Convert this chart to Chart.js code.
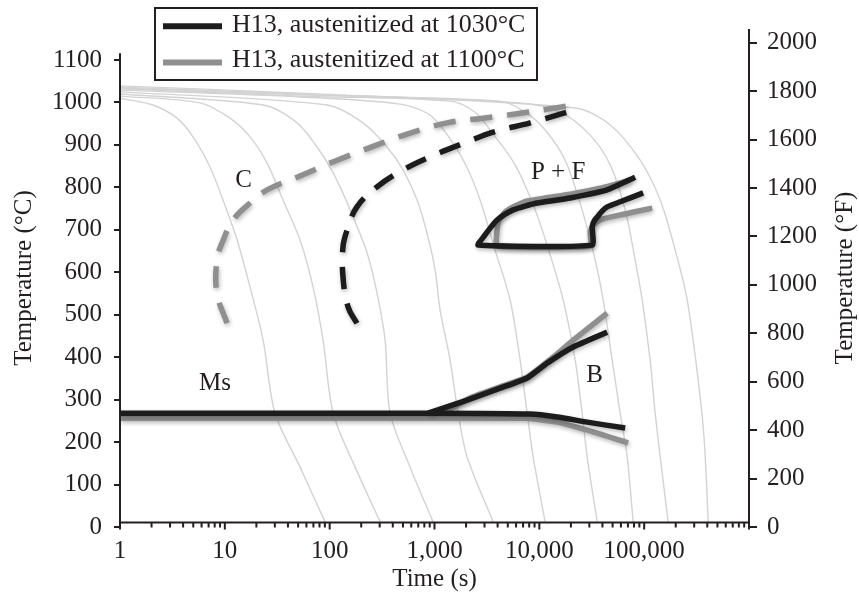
<!DOCTYPE html>
<html lang="en">
<head>
<meta charset="utf-8">
<title>H13 CCT diagram</title>
<script src="https://cdn.jsdelivr.net/npm/chart.js@4.4.1/dist/chart.umd.min.js"></script>
<style>
  html, body { margin: 0; padding: 0; background: #fff; }
  canvas { display: block; }
</style>
</head>
<body>
<canvas id="cct" width="859" height="594"></canvas>
<script>
// ---- data ---------------------------------------------------------------
const seriesNames = ['H13, austenitized at 1030°C', 'H13, austenitized at 1100°C'];
const timeTicks = [1, 10, 100, 1000, 10000, 100000];
const celsiusTicks = [0, 100, 200, 300, 400, 500, 600, 700, 800, 900, 1000, 1100];
const fahrenheitTicks = [0, 200, 400, 600, 800, 1000, 1200, 1400, 1600, 1800, 2000];

// cooling curves: [time (s), temperature (°C)]
const cooling1 = [[1,1010],[2.06,994],[3.5,963],[4.97,919],[7.22,848],[9.61,770],[13.1,676],[17.4,565],[23.2,440],[30.1,268],[52.2,141],[90.4,12]];
const cooling2 = [[1,1015],[5.8,999],[11.2,963],[17.4,919],[25.3,857],[35.9,770],[52.2,676],[69.5,565],[86.5,440],[108,268],[175,141],[303,12]];
const cooling3 = [[1,1020],[23.2,994],[48.9,952],[75.9,895],[108,834],[157,747],[228,645],[283,551],[338,440],[377,268],[585,141],[970,12]];
const cooling4 = [[1,1025],[94.4,994],[208,952],[353,895],[501,841],[682,770],[849,692],[1014,605],[1131,511],[1409,393],[1680,268],[2047,165],[3625,12]];
const cooling5 = [[1,1029],[52.2,1013],[470,996],[908,970],[1506,904],[2094,841],[2723,770],[3788,652],[5261,535],[6560,393],[7650,268],[8730,165],[11360,12]];
const cooling6 = [[1,1032],[52.2,1015],[1409,1003],[2440,977],[3394,935],[5875,853],[9120,747],[12680,641],[16870,535],[21970,393],[25600,268],[28590,165],[35640,12]];
const cooling7 = [[1,1034],[52.2,1018],[4227,1003],[7324,977],[11360,935],[17630,864],[25600,747],[34110,629],[40640,535],[49540,393],[59020,268],[68870,165],[78560,12]];
const cooling8 = [[1,1036],[52.2,1020],[6560,999],[15790,977],[30530,923],[47410,853],[65910,747],[82040,629],[95710,535],[114000,393],[127400,268],[142200,165],[169400,12]];
const cooling9 = [[1,1039],[52.2,1022],[21970,987],[47410,947],[91600,864],[142200,770],[197700,652],[257200,535],[327500,346],[374000,205],[408300,12]];
const coolingCurves = [cooling1, cooling2, cooling3, cooling4, cooling5, cooling6, cooling7, cooling8, cooling9];

// carbide precipitation start (C-curves)
const cStart1030 = [[182,480],[150,518],[134,589],[134,660],[147,700],[182,754],[283,801],[501,841],[908,872],[2047,907],[3625,930],[8170,952],[18420,977],[23450,985]];
const cStart1100 = [[10.5,480],[8.4,551],[8.4,629],[9.4,669],[12.0,723],[17.4,763],[25.3,794],[48.9,824],[118,864],[283,900],[585,928],[1318,952],[2911,963],[6855,975],[15800,989],[21970,994]];

// pearlite + ferrite field
const pf1030 = [[82040,824],[44360,794],[19680,775],[9530,763],[7324,756],[5623,747],[4721,737],[3958,723],[3394,704],[2973,685],[2608,664],
                [31920,664],[31920,707],[33340,721],[35640,730],[39720,744],[44360,754],[59020,766],[97800,787]];
const pf1100 = [[73510,817],[38020,798],[19680,784],[11360,775],[7650,768],[5875,756],[4721,742],[4134,723],[3958,700],[3958,662],
                [30530,662],[30530,695],[33340,714],[39720,725],[59020,735],[119200,751]];

// Ms line running into the lower bainite boundary, and upper bainite boundary
const msLine1030 = [[1,268],[1000,268],[8170,266],[14790,259],[28590,247],[65910,233]];
const bUpper1030 = [[869,268],[2047,299],[4227,327],[7650,351],[11870,386],[21030,424],[44360,459]];
const msLine1100 = [[1,256],[1000,256],[7650,256],[14790,247],[32610,224],[70310,198]];
const bUpper1100 = [[1131,264],[2186,304],[4227,330],[7650,353],[13550,400],[21030,440],[44360,504]];

// field labels: [text, time (s), temperature (°C)]
const regionLabels = [['C', 15.1, 816], ['P + F', 15110, 836], ['Ms', 8.06, 339], ['B', 33700, 356]];

// ---- styling --------------------------------------------------------------
const FONT = '"Liberation Serif", "Times New Roman", serif';
const INK = '#231f20';
const BLACK = '#1c1c1c';
const GRAY = '#8f8f8f';
const FAINT = '#d3d3d3';

const xy = arr => arr.map(([x, y]) => ({ x, y }));

function thickLine(data, color, order, dashed) {
  return {
    data: xy(data), yAxisID: 'yC', order,
    borderColor: color, borderWidth: 5.5, tension: dashed ? 0.4 : 0.15,
    borderDash: dashed ? [22, 15] : [], borderCapStyle: 'butt', borderJoinStyle: 'miter',
    pointRadius: 0, fill: false, shadow: true
  };
}

const datasets = [
  thickLine(cStart1030, BLACK, 0, true),
  thickLine(pf1030, BLACK, 0, false),
  thickLine(msLine1030, BLACK, 0, false),
  thickLine(bUpper1030, BLACK, 0, false),
  thickLine(cStart1100, GRAY, 1, true),
  thickLine(pf1100, GRAY, 1, false),
  thickLine(msLine1100, GRAY, 1, false),
  thickLine(bUpper1100, GRAY, 1, false),
  ...coolingCurves.map(c => ({
    data: xy(c), yAxisID: 'yC', order: 2,
    borderColor: FAINT, borderWidth: 1.4, tension: 0.3, pointRadius: 0, fill: false
  }))
];

// soft drop shadow under the heavy transformation lines
const lineShadow = {
  id: 'lineShadow',
  beforeDatasetDraw(chart, args) {
    if (!chart.data.datasets[args.index].shadow) return;
    const ctx = chart.ctx;
    ctx.save();
    ctx.shadowColor = 'rgba(0,0,0,0.28)';
    ctx.shadowBlur = 4;
    ctx.shadowOffsetX = 1;
    ctx.shadowOffsetY = 2;
  },
  afterDatasetDraw(chart, args) {
    if (chart.data.datasets[args.index].shadow) chart.ctx.restore();
  }
};

// axis lines, log minor ticks, field labels, right-hand title
const frame = {
  id: 'frame',
  afterDatasetsDraw(chart) {
    const { ctx, chartArea: a, scales: { x, yC } } = chart;
    ctx.save();
    ctx.strokeStyle = INK;
    ctx.lineWidth = 2;
    const baseY = a.bottom - 4.5;
    ctx.beginPath();
    ctx.moveTo(a.left, yC.getPixelForValue(1116));
    ctx.lineTo(a.left, a.bottom + 1);
    ctx.moveTo(a.right, a.top);
    ctx.lineTo(a.right, a.bottom + 1);
    ctx.moveTo(a.left - 1, baseY);
    ctx.lineTo(a.right + 1, baseY);
    for (let e = 0; e <= 6; e++) {
      for (let m = 1; m <= 9; m++) {
        const v = m * Math.pow(10, e);
        if (v > 1e6) break;
        const px = x.getPixelForValue(v);
        ctx.moveTo(px, baseY);
        ctx.lineTo(px, baseY + (m === 1 ? 7 : 5));
      }
    }
    ctx.stroke();

    ctx.fillStyle = INK;
    ctx.font = '25px ' + FONT;
    ctx.textAlign = 'center';
    ctx.textBaseline = 'middle';
    regionLabels.forEach(([t, tx, ty]) => {
      ctx.fillText(t, x.getPixelForValue(tx), yC.getPixelForValue(ty));
    });

    ctx.translate(845, (a.top + a.bottom) / 2);
    ctx.rotate(-Math.PI / 2);
    ctx.fillText('Temperature (°F)', 0, 0);
    ctx.restore();
  }
};

// framed legend in the upper left
const boxLegend = {
  id: 'boxLegend',
  afterDraw(chart) {
    const ctx = chart.ctx;
    ctx.save();
    ctx.fillStyle = '#fff';
    ctx.fillRect(155, 8, 382, 72);
    ctx.strokeStyle = INK;
    ctx.lineWidth = 2;
    ctx.strokeRect(155, 8, 382, 72);
    const rows = [[seriesNames[0], BLACK, 26.3, 25], [seriesNames[1], GRAY, 62.5, 60]];
    rows.forEach(([text, color, ly, ty]) => {
      ctx.strokeStyle = color;
      ctx.lineWidth = 6;
      ctx.beginPath();
      ctx.moveTo(163, ly);
      ctx.lineTo(222, ly);
      ctx.stroke();
      ctx.fillStyle = INK;
      ctx.font = '26px ' + FONT;
      ctx.textAlign = 'left';
      ctx.textBaseline = 'middle';
      ctx.fillText(text, 232, ty);
    });
    ctx.restore();
  }
};

const tickFont = { family: FONT, size: 25 };
const plainNumber = v => String(v);

new Chart(document.getElementById('cct'), {
  type: 'line',
  data: { datasets },
  plugins: [lineShadow, frame, boxLegend],
  options: {
    responsive: false,
    animation: false,
    events: [],
    devicePixelRatio: 1,
    layout: { padding: { top: 29, left: 0, right: 0, bottom: 0 } },
    plugins: { legend: { display: false }, tooltip: { enabled: false } },
    scales: {
      x: {
        type: 'logarithmic', position: 'bottom', min: 1, max: 1e6,
        afterBuildTicks: s => { s.ticks = timeTicks.map(v => ({ value: v })); },
        afterFit: s => { s.height = 67; },
        grid: { display: false, drawTicks: false },
        border: { display: false },
        ticks: {
          color: INK, font: tickFont, padding: 9, maxRotation: 0, autoSkip: false,
          callback: v => Number(v).toLocaleString('en-US')
        },
        title: { display: true, text: 'Time (s)', color: INK, font: tickFont, padding: { top: 0, bottom: 0 } }
      },
      yC: {
        type: 'linear', position: 'left', min: 0, max: 1173,
        afterBuildTicks: s => { s.ticks = celsiusTicks.map(v => ({ value: v })); },
        afterFit: s => { s.width = 120; },
        grid: { display: true, drawOnChartArea: false, drawTicks: true, tickLength: 6, lineWidth: 2, color: INK },
        border: { display: false },
        ticks: { color: INK, font: tickFont, padding: 12, callback: plainNumber },
        title: { display: true, text: 'Temperature (°C)', color: INK, font: tickFont, padding: { top: 9, bottom: 0 } }
      },
      yF: {
        type: 'linear', position: 'right', min: 0, max: 2057,
        afterBuildTicks: s => { s.ticks = fahrenheitTicks.map(v => ({ value: v })); },
        afterFit: s => { s.width = 110; },
        grid: { display: true, drawOnChartArea: false, drawTicks: true, tickLength: 8, lineWidth: 2, color: INK },
        border: { display: false },
        ticks: { color: INK, font: tickFont, padding: 10, callback: plainNumber },
        title: { display: false }
      }
    }
  }
});
</script>
</body>
</html>
